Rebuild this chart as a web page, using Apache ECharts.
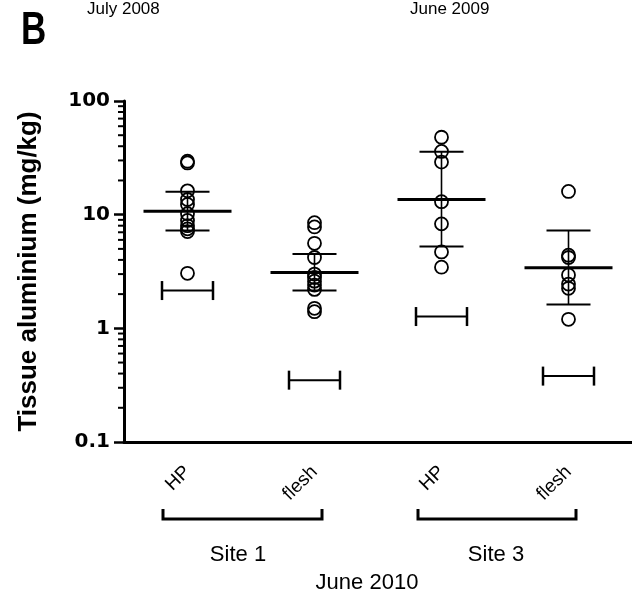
<!DOCTYPE html>
<html>
<head>
<meta charset="utf-8">
<script src="https://cdn.jsdelivr.net/npm/echarts@6/dist/echarts.min.js"></script>
<style>
  html, body { margin: 0; padding: 0; background: #fff; }
  #main { width: 632px; height: 600px; }
</style>
</head>
<body>
<div id="main"></div>
<script>
// groups along the x axis
var categories = ['HP', 'flesh', 'HP', 'flesh'];

// individual measurements (mg/kg), one list per group
var hpSite1 = [29.5, 28.5, 16.2, 13.6, 12.3, 10.2, 8.9, 8.0, 7.5, 7.1, 3.05];
var fleshSite1 = [8.5, 7.8, 5.6, 4.2, 3.0, 2.8, 2.6, 2.4, 2.2, 1.5, 1.4];
var hpSite3 = [48, 36, 29, 13, 8.3, 4.7, 3.45];
var fleshSite3 = [16, 4.4, 4.2, 2.95, 2.45, 2.25, 1.2];
var groups = [hpSite1, fleshSite1, hpSite3, fleshSite3];

// mean line and error bar ends per group
var means = [10.7, 3.1, 13.6, 3.42];
var errLow = [7.25, 2.15, 5.25, 1.62];
var errHigh = [15.9, 4.5, 35.7, 7.27];

// lower reference brackets per group
var refBars = [2.15, 0.35, 1.27, 0.38];

// y axis minor ticks (log decades)
var minorTicks = [0.2, 0.3, 0.4, 0.5, 0.6, 0.7, 0.8, 0.9,
                  2, 3, 4, 5, 6, 7, 8, 9,
                  20, 30, 40, 50, 60, 70, 80, 90];

var myChart = echarts.init(document.getElementById('main'));

var pointData = [];
groups.forEach(function (g, i) {
    g.forEach(function (v) { pointData.push([i, v]); });
});

var barData = means.map(function (m, i) { return [i, m, errLow[i], errHigh[i]]; });
var refData = refBars.map(function (v, i) { return [i, v]; });
var minorData = minorTicks.map(function (v) { return [0, v]; });

function line(x1, y1, x2, y2, w) {
    return { type: 'line', shape: { x1: x1, y1: y1, x2: x2, y2: y2 },
             style: { stroke: '#000', lineWidth: w } };
}

var option = {
    animation: false,
    grid: { left: 124, top: 101, width: 512, bottom: 158 },
    xAxis: {
        type: 'category',
        data: categories,
        boundaryGap: true,
        axisLine: { lineStyle: { color: '#000', width: 3 } },
        axisTick: { alignWithLabel: true, length: 9, lineStyle: { color: '#000', width: 3 } },
        axisLabel: { rotate: 45, margin: 27, color: '#000', fontSize: 19, fontFamily: 'Liberation Sans' },
        splitLine: { show: false }
    },
    yAxis: {
        type: 'log',
        logBase: 10,
        min: 0.1,
        max: 100,
        name: 'Tissue aluminium (mg/kg)',
        nameLocation: 'middle',
        nameGap: 82,
        nameTextStyle: { color: '#000', fontSize: 26, fontWeight: 'bold', fontFamily: 'Liberation Sans' },
        axisLine: { show: true, lineStyle: { color: '#000', width: 3 } },
        axisTick: { show: true, length: 10, lineStyle: { color: '#000', width: 2.5 } },
        axisLabel: { margin: 14, color: '#000', fontSize: 20, fontWeight: 'bold', fontFamily: 'DejaVu Sans' },
        splitLine: { show: false }
    },
    series: [
        {
            type: 'custom',
            clip: false,
            silent: true,
            data: minorData,
            renderItem: function (params, api) {
                var p = api.coord([api.value(0), api.value(1)]);
                var x0 = params.coordSys.x;
                return line(x0, p[1], x0 - 6, p[1], 2);
            }
        },
        {
            type: 'scatter',
            data: pointData,
            symbol: 'circle',
            symbolSize: 13,
            itemStyle: { color: 'rgba(0,0,0,0)', borderColor: '#000', borderWidth: 1.8, opacity: 1 },
            silent: true
        },
        {
            type: 'custom',
            silent: true,
            data: barData,
            renderItem: function (params, api) {
                var x = api.value(0);
                var pm = api.coord([x, api.value(1)]);
                var pl = api.coord([x, api.value(2)]);
                var ph = api.coord([x, api.value(3)]);
                return {
                    type: 'group',
                    children: [
                        line(pm[0], pl[1], pm[0], ph[1], 1.6),
                        line(pm[0] - 22, pl[1], pm[0] + 22, pl[1], 2),
                        line(pm[0] - 22, ph[1], pm[0] + 22, ph[1], 2),
                        line(pm[0] - 44, pm[1], pm[0] + 44, pm[1], 3)
                    ]
                };
            }
        },
        {
            type: 'custom',
            silent: true,
            data: refData,
            renderItem: function (params, api) {
                var p = api.coord([api.value(0), api.value(1)]);
                return {
                    type: 'group',
                    children: [
                        line(p[0] - 25.5, p[1], p[0] + 25.5, p[1], 2),
                        line(p[0] - 25.5, p[1] - 9.5, p[0] - 25.5, p[1] + 9.5, 2.5),
                        line(p[0] + 25.5, p[1] - 9.5, p[0] + 25.5, p[1] + 9.5, 2.5)
                    ]
                };
            }
        }
    ],
    graphic: [
        { type: 'text', x: 21, y: 9, scaleY: 1.3,
          style: { text: 'B', fontSize: 35, fontWeight: 'bold', fontFamily: 'Liberation Sans', fill: '#000' } },
        { type: 'text', x: 87, y: 1,
          style: { text: 'July 2008', fontSize: 17, fontFamily: 'Liberation Sans', fill: '#000' } },
        { type: 'text', x: 410, y: 1,
          style: { text: 'June 2009', fontSize: 17, fontFamily: 'Liberation Sans', fill: '#000' } },
        { type: 'polyline', shape: { points: [[163, 509], [163, 519], [322, 519], [322, 509]] },
          style: { stroke: '#000', lineWidth: 3, fill: null } },
        { type: 'polyline', shape: { points: [[418, 509], [418, 519], [576, 519], [576, 509]] },
          style: { stroke: '#000', lineWidth: 3, fill: null } },
        { type: 'text', x: 238, y: 555,
          style: { text: 'Site 1', fontSize: 22, fontFamily: 'Liberation Sans', fill: '#000', align: 'center', verticalAlign: 'middle' } },
        { type: 'text', x: 496, y: 555,
          style: { text: 'Site 3', fontSize: 22, fontFamily: 'Liberation Sans', fill: '#000', align: 'center', verticalAlign: 'middle' } },
        { type: 'text', x: 367, y: 583,
          style: { text: 'June 2010', fontSize: 22, fontFamily: 'Liberation Sans', fill: '#000', align: 'center', verticalAlign: 'middle' } }
    ]
};

myChart.setOption(option);
</script>
</body>
</html>
